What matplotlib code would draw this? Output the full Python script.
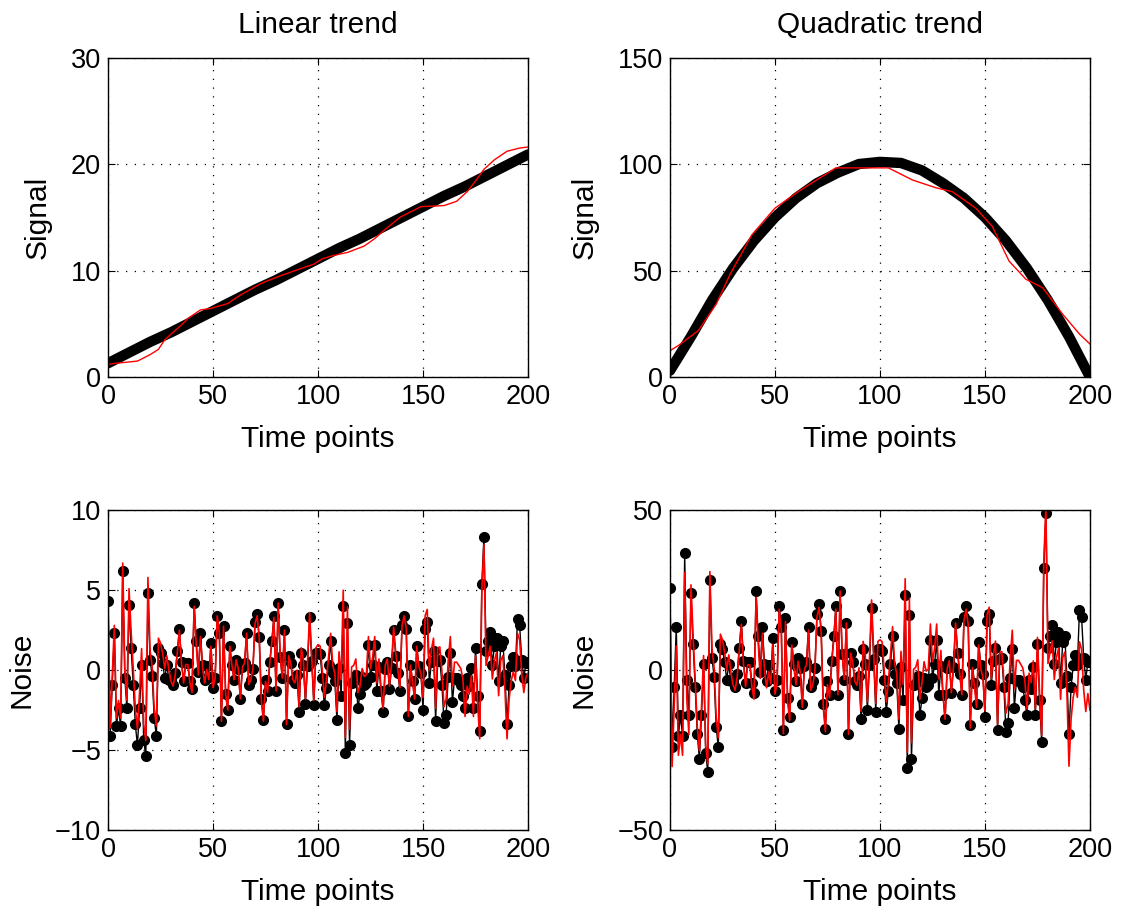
import numpy as np
import matplotlib.pyplot as plt

plt.rcParams['font.family'] = ['Liberation Sans', 'DejaVu Sans']

# trend anchors read every 10 time points
trend_t = [0, 10, 20, 30, 40, 50, 60, 70, 80, 90, 100, 110, 120, 130, 140, 150, 160, 170, 180, 190, 200]
trend_lin = [1.3, 2.3, 3.3, 4.2, 5.2, 6.2, 7.2, 8.2, 9.1, 10.1, 11.1, 12.1, 13.0, 14.0, 15.0, 16.0, 17.0, 17.9, 18.9, 19.9, 20.9]
trend_quad = [3, 19, 36, 51, 64, 75, 84, 91, 96, 100, 101, 100.5, 97, 91, 84, 75, 64, 51, 36, 19, 0]

# red fitted trend (top panels)
fit_lin_t = [0, 4, 14, 20, 24, 27, 35, 38, 44, 49, 57, 63, 73, 82, 92, 98, 102, 107, 114, 122, 127, 131,
             139, 149, 160, 166, 171, 175, 179, 184, 190, 196, 200]
fit_lin = [1.2, 1.3, 1.5, 2.1, 2.6, 3.5, 4.9, 5.5, 6.3, 6.45, 6.9, 7.7, 8.8, 9.5, 10.2, 10.6, 11.1, 11.4,
           11.7, 12.3, 13.0, 13.7, 15.0, 16.0, 16.1, 16.5, 17.4, 18.4, 19.5, 20.4, 21.2, 21.5, 21.6]
fit_quad_t = [0, 4, 13.5, 22, 28.6, 39, 50, 61, 79, 104, 115.5, 126.5, 134.5, 145.6, 153.5, 161.5, 169.5,
              177.4, 187, 195, 200]
fit_quad = [12.4, 14.8, 21.8, 34.2, 48.2, 66.8, 79.3, 87, 98.2, 98.2, 92.5, 88.9, 87, 79.3, 70.7, 54.4,
            45.9, 42, 29.5, 20.2, 15.5]

# noise, one value per time point (linear panel)
noise = [4.35, -4.1, -0.9, 2.3, -3.5, -2.4, -3.5, 6.2, -0.5, -2.4,
         4.1, 1.4, -0.9, -3.4, -4.7, -2.4, 0.35, -4.4, -5.4, 4.8,
         0.65, -0.35, -3.0, -4.1, 1.4, 1.1, 0.45, -0.5, 0.3, -0.6,
         -0.6, -0.9, -0.2, 1.2, 2.6, 0.5, -0.7, 0.45, 0.45, -0.7,
         -1.2, 4.2, 1.8, -0.1, 2.3, 0.35, -0.6, 0.25, -0.4, 1.7,
         -1.1, -0.5, 3.4, 2.3, -3.2, 2.75, -1.5, -2.5, 1.5, 0.3,
         -0.6, 0.65, 0.1, -1.8, 0.2, 0.45, 2.3, -0.9, -0.6, 0.1,
         3.0, 3.5, 2.1, -1.8, -3.1, -0.6, -1.3, 0.5, 1.8, 3.4,
         -1.3, 4.2, 0.85, -0.5, 2.5, -3.4, 0.9, 0.45, -0.6, -0.8,
         -0.3, -2.6, 1.1, 0.35, -2.1, 0.25, 3.3, 0.6, -2.2, 1.1,
         1.1, 1.0, -0.5, -2.2, -1.1, 0.3, 1.8, -0.2, -0.7, -3.1,
         0.15, -1.6, 4.0, -5.2, 2.95, -4.7, -0.8, -0.7, -0.3, -2.4,
         -1.5, -0.4, -0.9, -0.8, 1.6, -0.4, 0.3, 1.6, -1.3, 0.2,
         -1.3, -2.6, 0.1, 0.5, -1.2, 0.15, 2.5, 0.9, -0.2, -1.3,
         2.8, 3.4, 2.6, -2.9, 0.3, -0.7, -1.8, 1.5, 0.25, -0.2,
         -2.5, 2.6, 3.0, -0.8, 0.5, 1.2, -3.2, 0.6, 0.65, -0.9,
         -3.3, -2.8, -0.4, 1.1, -2.0, -0.5, -0.5, -0.7, -0.9, -1.6,
         -2.4, -0.5, -1.0, 0.15, -2.4, 1.4, -1.6, -3.8, 5.4, 8.35,
         1.2, 1.8, 2.4, 0.35, 1.5, 2.0, -0.7, 1.5, 1.8, -0.3,
         -3.4, -0.9, 0.25, 0.8, 0.25, 3.2, 2.8, 0.65, -0.5, 0.45,
         0.5]
quad_noise_scale = 5.9   # right-hand noise has the same shape, about 5.9x larger

# trend minus fitted trend, read per block of 10 time points
offset_lin = [0.5, 1.0, 0.6, -0.1, -0.2, 0, 0, -0.1, 0, 0.3, 0.5, 1.0, 0.5, 0.2, 0, 0.8, 1.0, -0.5, -0.9, -0.9, -0.7]
offset_quad = [-6, 2.5, 3, -1, -2, -1, -1, -1, 0, 2.5, 3, 5, 5, 0, -1, 2, 6, 2, -5, -10, -15.5]

t = np.arange(len(noise))
noise_lin = np.array(noise)
noise_quad = noise_lin * quad_noise_scale
red_lin = noise_lin + np.repeat(offset_lin, 10)[:len(t)]
red_quad = noise_quad + np.repeat(offset_quad, 10)[:len(t)]

fig = plt.figure(figsize=(11.23, 9.13), dpi=100)
fs_lab = 21.5
fs_tick = 19.5
W, H = 0.374, 0.350
pos = {
    'tl': [0.0962, 0.587, W, H],
    'tr': [0.5966, 0.587, W, H],
    'bl': [0.0962, 0.091, W, H],
    'br': [0.5966, 0.091, W, H],
}


def style(ax, ylim, yticks, ylabel, title=None):
    ax.set_xlim(0, 200)
    ax.set_ylim(*ylim)
    ax.set_xticks([0, 50, 100, 150, 200])
    ax.set_yticks(yticks)
    ax.grid(True, linestyle=(0, (1, 6)), color='black', linewidth=0.9)
    ax.tick_params(direction='in', top=True, right=True, labelsize=fs_tick, length=5, pad=5)
    for s in ax.spines.values():
        s.set_linewidth(1.0)
    ax.set_xlabel('Time points', fontsize=fs_lab, labelpad=11)
    ax.set_ylabel(ylabel, fontsize=fs_lab, labelpad=14)
    if title:
        ax.set_title(title, fontsize=fs_lab, pad=18)


ax = fig.add_axes(pos['tl'])
ax.plot(trend_t, trend_lin, color='black', lw=7.5, solid_capstyle='round')
ax.plot(fit_lin_t, fit_lin, color='red', lw=1.0)
style(ax, (0, 30), [0, 10, 20, 30], 'Signal', 'Linear trend')

ax = fig.add_axes(pos['tr'])
ax.plot(trend_t, trend_quad, color='black', lw=7.5, solid_capstyle='round')
ax.plot(fit_quad_t, fit_quad, color='red', lw=1.0)
style(ax, (0, 150), [0, 50, 100, 150], 'Signal', 'Quadratic trend')

ax = fig.add_axes(pos['bl'])
ax.plot(t, noise_lin, color='black', lw=1.0, marker='o', markersize=7)
ax.plot(t, red_lin, color='red', lw=1.2)
style(ax, (-10, 10), [-10, -5, 0, 5, 10], 'Noise')

ax = fig.add_axes(pos['br'])
ax.plot(t, noise_quad, color='black', lw=1.0, marker='o', markersize=7)
ax.plot(t, red_quad, color='red', lw=1.2)
style(ax, (-50, 50), [-50, 0, 50], 'Noise')

fig.savefig('out.png', dpi=100)
